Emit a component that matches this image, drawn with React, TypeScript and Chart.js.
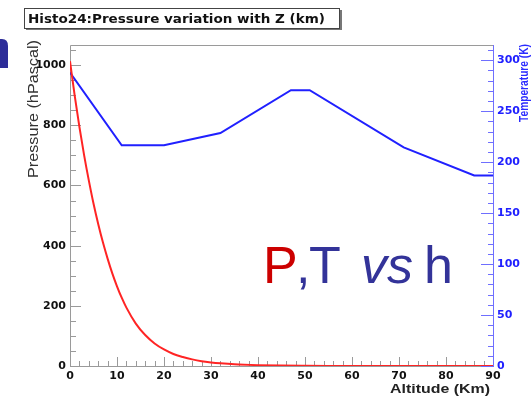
import React, { useEffect, useRef } from "react";
import { Chart, registerables } from "chart.js";
Chart.register(...registerables);

// ---- data ----
const altitudeKm = [0, 1, 2, 3, 4, 5, 6, 7, 8, 9, 10, 11, 12, 14, 16, 18, 20, 22, 24, 26, 28, 30, 32, 35, 40, 45, 50, 55, 60, 70, 80, 90];
const pressureHPa = [1013, 899, 795, 701, 617, 540, 472, 411, 357, 308, 265, 227, 194, 141, 103, 75, 55, 40, 30, 22, 16, 12, 9, 5.7, 2.9, 1.5, 0.8, 0.4, 0.2, 0.05, 0.01, 0];
const tempAltKm = [0, 11, 20, 32, 47, 51, 71, 86, 90];
const temperatureK = [288, 216.6, 216.6, 228.6, 270.6, 270.6, 214.6, 186.9, 186.9];

const xTicks = [0, 10, 20, 30, 40, 50, 60, 70, 80, 90];
const pressureTicks = [0, 200, 400, 600, 800, 1000];
const tempTicks = [0, 50, 100, 150, 200, 250, 300];

const titleText = "Histo24:Pressure variation with Z (km)";
const xTitle = "Altitude (Km)";
const yTitle = "Pressure (hPascal)";
const y1Title = "Temperature (K)";

const tickFont = { family: "DejaVu Sans", size: 11, weight: "bold" as const };
const plain = (v: any) => String(v);

function drawFitText(ctx: CanvasRenderingContext2D, text: string, x: number, y: number, len: number) {
  const w = ctx.measureText(text).width;
  ctx.save();
  ctx.translate(x, y);
  ctx.scale(len / w, 1);
  ctx.fillText(text, 0, 0);
  ctx.restore();
}

const decorPlugin = {
  id: "decor",
  beforeDatasetsDraw(chart: any) {
    const ctx: CanvasRenderingContext2D = chart.ctx;
    const { left, right, top, bottom } = chart.chartArea;
    const sx = chart.scales.x, sy = chart.scales.y, sy1 = chart.scales.y1;
    ctx.save();
    ctx.lineWidth = 1;
    ctx.strokeStyle = "#9a9a9a";
    ctx.beginPath();
    ctx.moveTo(left + 0.5, bottom + 0.5);
    ctx.lineTo(left + 0.5, top + 0.5);
    ctx.lineTo(right + 0.5, top + 0.5);
    ctx.moveTo(left + 0.5, bottom + 0.5);
    ctx.lineTo(right + 0.5, bottom + 0.5);
    ctx.stroke();
    ctx.beginPath();
    for (let v = 0; v <= 90; v += 2) {
      const px = Math.round(sx.getPixelForValue(v)) + 0.5;
      const len = v % 10 === 0 ? 9 : 5;
      ctx.moveTo(px, bottom);
      ctx.lineTo(px, bottom - len);
    }
    for (let v = 0; v <= sy.max; v += 50) {
      const py = Math.round(sy.getPixelForValue(v)) + 0.5;
      const len = v % 200 === 0 ? 11 : 6;
      ctx.moveTo(left, py);
      ctx.lineTo(left + len, py);
    }
    ctx.stroke();
    ctx.strokeStyle = "#6f6fff";
    ctx.beginPath();
    ctx.moveTo(right + 0.5, top);
    ctx.lineTo(right + 0.5, bottom + 1);
    for (let v = 0; v <= sy1.max; v += 10) {
      const py = Math.round(sy1.getPixelForValue(v)) + 0.5;
      const len = v % 50 === 0 ? 13 : 6;
      ctx.moveTo(right + 1, py);
      ctx.lineTo(right + 1 - len, py);
    }
    ctx.stroke();
    ctx.restore();
  },
  afterDraw(chart: any) {
    const ctx: CanvasRenderingContext2D = chart.ctx;
    ctx.save();
    ctx.fillStyle = "#ffffff";
    ctx.fillRect(24, 8, 316, 20);
    ctx.strokeStyle = "#444";
    ctx.lineWidth = 1;
    ctx.strokeRect(24.5, 8.5, 315, 20);
    ctx.fillStyle = "#777";
    ctx.fillRect(340, 10, 2, 20);
    ctx.fillRect(26, 29, 316, 1);
    ctx.fillStyle = "#111";
    ctx.font = "bold 12px 'DejaVu Sans'";
    ctx.textBaseline = "alphabetic";
    drawFitText(ctx, titleText, 28, 23, 297);

    ctx.fillStyle = "#333";
    ctx.font = "15px 'Liberation Sans'";
    ctx.save();
    ctx.translate(38, 178);
    ctx.rotate(-Math.PI / 2);
    drawFitText(ctx, yTitle, 0, 0, 138);
    ctx.restore();

    ctx.fillStyle = "#2b2bff";
    ctx.font = "bold 12px 'Liberation Sans'";
    ctx.save();
    ctx.translate(528, 122);
    ctx.rotate(-Math.PI / 2);
    drawFitText(ctx, y1Title, 0, 0, 78);
    ctx.restore();

    ctx.fillStyle = "#222";
    ctx.font = "bold 13px 'Liberation Sans'";
    drawFitText(ctx, xTitle, 390, 393, 100);

    ctx.font = "52px 'Liberation Sans'";
    ctx.fillStyle = "#cc0000";
    ctx.fillText("P", 263, 283);
    ctx.fillStyle = "#333399";
    ctx.fillText(",", 296, 283);
    ctx.fillText("T", 309, 283);
    ctx.font = "italic 52px 'Liberation Sans'";
    ctx.fillText("vs", 361, 283);
    ctx.font = "52px 'Liberation Sans'";
    ctx.fillText("h", 424, 283);

    ctx.fillStyle = "#2d2d99";
    ctx.beginPath();
    ctx.moveTo(0, 39);
    ctx.lineTo(2, 39);
    ctx.quadraticCurveTo(8, 39, 8, 46);
    ctx.lineTo(8, 68);
    ctx.lineTo(0, 68);
    ctx.closePath();
    ctx.fill();
    ctx.restore();
  },
};

export default function App() {
  const ref = useRef<HTMLCanvasElement>(null);
  useEffect(() => {
    if (!ref.current) return;
    const chart = new Chart(ref.current, {
      type: "scatter",
      data: {
        datasets: [
          {
            data: altitudeKm.map((x, i) => ({ x, y: pressureHPa[i] })),
            showLine: true,
            borderColor: "#ff2424",
            borderWidth: 2,
            pointRadius: 0,
            cubicInterpolationMode: "monotone",
            yAxisID: "y",
          },
          {
            data: tempAltKm.map((x, i) => ({ x, y: temperatureK[i] })),
            showLine: true,
            borderColor: "#2020ff",
            borderWidth: 2,
            pointRadius: 0,
            tension: 0,
            yAxisID: "y1",
          },
        ],
      },
      options: {
        responsive: false,
        animation: false,
        layout: { padding: { top: 45, left: 0, right: 0, bottom: 0 } },
        plugins: { legend: { display: false }, tooltip: { enabled: false } },
        scales: {
          x: {
            type: "linear",
            position: "bottom",
            min: 0,
            max: 90,
            grid: { display: false, drawTicks: false },
            border: { display: false },
            ticks: { font: tickFont, color: "#111", padding: 4, maxRotation: 0, autoSkip: false, callback: plain },
            afterBuildTicks: (s: any) => { s.ticks = xTicks.map((v) => ({ value: v })); },
            afterFit: (s: any) => { s.height = 35; },
          },
          y: {
            type: "linear",
            position: "left",
            min: 0,
            max: 1067,
            grid: { display: false, drawTicks: false },
            border: { display: false },
            ticks: { font: tickFont, color: "#111", padding: 4, autoSkip: false, callback: plain },
            afterBuildTicks: (s: any) => { s.ticks = pressureTicks.map((v) => ({ value: v })); },
            afterFit: (s: any) => { s.width = 70; },
          },
          y1: {
            type: "linear",
            position: "right",
            min: 0,
            max: 315,
            grid: { display: false, drawTicks: false },
            border: { display: false },
            ticks: { font: tickFont, color: "#2020ff", padding: 4, autoSkip: false, callback: plain },
            afterBuildTicks: (s: any) => { s.ticks = tempTicks.map((v) => ({ value: v })); },
            afterFit: (s: any) => { s.width = 39; },
          },
        },
      },
      plugins: [decorPlugin],
    } as any);
    return () => chart.destroy();
  }, []);
  return (
    <div style={{ position: "absolute", left: 0, top: 0, width: 532, height: 401, background: "#fff" }}>
      <canvas ref={ref} width={532} height={401} style={{ display: "block" }} />
    </div>
  );
}
